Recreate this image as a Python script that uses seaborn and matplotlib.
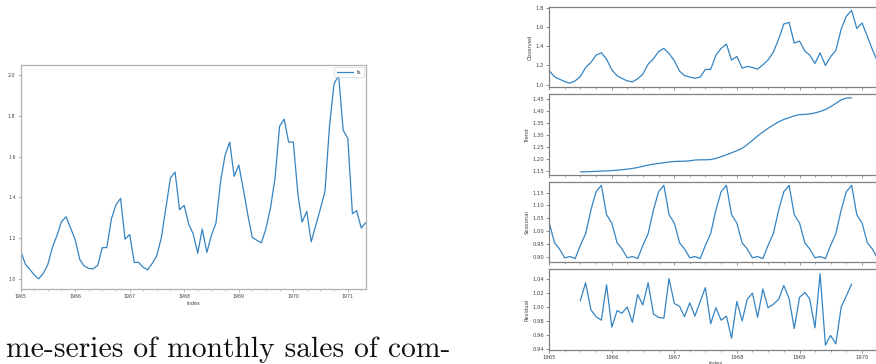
import numpy as np
import pandas as pd
import matplotlib
matplotlib.use("Agg")
import matplotlib.pyplot as plt
import matplotlib.dates as mdates
from matplotlib.ticker import MultipleLocator, FormatStrFormatter
import seaborn as sns

# ---------------- data ----------------
ts_values = [1.138, 1.072, 1.048, 1.020, 1.000, 1.026, 1.069, 1.154, 1.213, 1.281, 1.305, 1.250,
             1.192, 1.095, 1.064, 1.051, 1.049, 1.066, 1.153, 1.154, 1.296, 1.363, 1.396, 1.195,
             1.218, 1.080, 1.082, 1.057, 1.044, 1.076, 1.112, 1.202, 1.351, 1.496, 1.525, 1.340,
             1.361, 1.268, 1.222, 1.126, 1.245, 1.130, 1.213, 1.274, 1.479, 1.608, 1.672, 1.504,
             1.560, 1.438, 1.320, 1.204, 1.190, 1.177, 1.245, 1.348, 1.496, 1.750, 1.785, 1.672,
             1.673, 1.415, 1.279, 1.332, 1.182, 1.264, 1.343, 1.429, 1.755, 1.959, 2.000, 1.731,
             1.691, 1.320, 1.335, 1.250, 1.276]

observed = [1.143, 1.080, 1.056, 1.031, 1.014, 1.038, 1.083, 1.177, 1.230, 1.306, 1.330, 1.264,
            1.153, 1.090, 1.063, 1.038, 1.028, 1.059, 1.108, 1.212, 1.268, 1.344, 1.376, 1.323,
            1.247, 1.139, 1.094, 1.077, 1.066, 1.077, 1.157, 1.157, 1.306, 1.376, 1.421, 1.254,
            1.292, 1.170, 1.188, 1.177, 1.160, 1.205, 1.257, 1.337, 1.473, 1.630, 1.647, 1.431,
            1.452, 1.348, 1.306, 1.219, 1.330, 1.198, 1.289, 1.355, 1.577, 1.710, 1.772, 1.584,
            1.640, 1.500, 1.370, 1.240, 1.220]

# trend / residual: 1965-07 .. 1969-11
trend = [1.147, 1.147, 1.148, 1.149, 1.150, 1.151,
         1.152, 1.154, 1.156, 1.158, 1.161, 1.165, 1.170, 1.175, 1.179, 1.182, 1.185, 1.188,
         1.190, 1.191, 1.191, 1.193, 1.196, 1.197, 1.197, 1.198, 1.203, 1.210, 1.218, 1.226,
         1.235, 1.245, 1.260, 1.278, 1.296, 1.313, 1.328, 1.342, 1.355, 1.365, 1.372, 1.380,
         1.385, 1.386, 1.388, 1.392, 1.398, 1.406, 1.418, 1.432, 1.446, 1.454, 1.455]

seasonal = [1.031, 0.954, 0.931, 0.896, 0.901, 0.893, 0.944, 0.990, 1.082, 1.153, 1.178, 1.064,
            1.031, 0.954, 0.931, 0.896, 0.901, 0.893, 0.944, 0.990, 1.082, 1.153, 1.178, 1.064,
            1.031, 0.954, 0.931, 0.896, 0.901, 0.893, 0.944, 0.990, 1.082, 1.153, 1.178, 1.064,
            1.031, 0.954, 0.931, 0.896, 0.901, 0.893, 0.944, 0.990, 1.082, 1.153, 1.178, 1.064,
            1.031, 0.954, 0.931, 0.896, 0.901, 0.893, 0.944, 0.990, 1.082, 1.153, 1.178, 1.064,
            1.031, 0.954, 0.931, 0.896, 0.901]

residual = [1.009, 1.035, 0.996, 0.986, 0.981, 1.032,
            0.971, 0.995, 0.991, 1.000, 0.978, 1.018, 1.003, 1.035, 0.990, 0.985, 0.984, 1.041,
            1.005, 1.001, 0.986, 1.006, 0.987, 1.008, 1.028, 0.976, 0.999, 0.981, 0.987, 0.955,
            1.008, 0.980, 1.011, 1.020, 0.985, 1.026, 0.999, 1.004, 1.011, 1.031, 1.012, 0.969,
            1.014, 1.021, 1.012, 0.970, 1.048, 0.945, 0.959, 0.947, 1.000, 1.016, 1.033]

ts_dates = pd.date_range("1965-01-01", periods=len(ts_values), freq="MS")
dec_dates = pd.date_range("1965-01-01", periods=len(observed), freq="MS")
inner_dates = pd.date_range("1965-07-01", periods=len(trend), freq="MS")

# ---------------- style ----------------
sns.set_theme(style="ticks")
plt.rcParams["font.family"] = ["DejaVu Sans"]

LINE = "#3584c2"
TXT = "#444444"

fig = plt.figure(figsize=(8.76, 3.64), dpi=100)


def style_axis(ax, spine_color, fs):
    for s in ax.spines.values():
        s.set_visible(True)
        s.set_color(spine_color)
        s.set_linewidth(0.9)
    ax.tick_params(axis="both", which="major", labelsize=fs, colors=spine_color,
                   labelcolor=TXT, length=2.2, width=0.6, pad=1.5, direction="out")
    ax.tick_params(axis="both", which="minor", colors=spine_color, length=1.3, width=0.5,
                   direction="out")
    ax.xaxis.set_major_locator(mdates.YearLocator())
    ax.xaxis.set_minor_locator(mdates.MonthLocator(bymonth=[1, 4, 7, 10]))
    ax.xaxis.set_major_formatter(mdates.DateFormatter("%Y"))


# ---------------- left chart ----------------
axL = fig.add_axes([20.7 / 876, 1 - 289 / 364, 345 / 876, (289 - 65.3) / 364])
df_ts = pd.DataFrame({"index": ts_dates, "ts": ts_values})
sns.lineplot(data=df_ts, x="index", y="ts", ax=axL, color=LINE, linewidth=0.9, label="ts")
style_axis(axL, "#b0b0b0", 3.4)
axL.set_xlim(ts_dates[0], ts_dates[-1])
axL.set_ylim(0.95, 2.05)
axL.yaxis.set_major_locator(MultipleLocator(0.2))
axL.yaxis.set_major_formatter(FormatStrFormatter("%.1f"))
axL.set_ylabel("")
axL.set_xlabel("index", fontsize=3.6, color=TXT, labelpad=1.5)
leg = axL.legend(loc="upper right", fontsize=3.6, frameon=True, handlelength=3.2,
                 borderpad=0.5, handletextpad=0.8, borderaxespad=0.4, fancybox=True)
leg.get_frame().set_edgecolor("#cccccc")
leg.get_frame().set_linewidth(0.5)

# ---------------- right decomposition ----------------
panels = [
    ("Observed", dec_dates, observed, (0.972, 1.81), 0.2, "%.1f"),
    ("Trend", inner_dates, trend, (1.135, 1.470), 0.05, "%.2f"),
    ("Seasonal", dec_dates, seasonal, (0.879, 1.192), 0.05, "%.2f"),
    ("Residual", inner_dates, residual, (0.9385, 1.0545), 0.02, "%.2f"),
]
left_px = 549.3
width_px = 62.5 * (len(observed) - 1) / 12
tops = [6.7, 94.2, 181.7, 269.2]
h_px = 80.5
axes_r = []
for (name, d, vals, ylim, step, fmt), top in zip(panels, tops):
    ax = fig.add_axes([left_px / 876, 1 - (top + h_px) / 364, width_px / 876, h_px / 364])
    sns.lineplot(x=d, y=vals, ax=ax, color=LINE, linewidth=0.9)
    style_axis(ax, "#808080", 3.8)
    ax.set_xlim(dec_dates[0], dec_dates[-1])
    ax.set_ylim(*ylim)
    ax.yaxis.set_major_locator(MultipleLocator(step))
    ax.yaxis.set_major_formatter(FormatStrFormatter(fmt))
    ax.set_ylabel(name, fontsize=3.8, color=TXT, labelpad=2)
    ax.set_xlabel("")
    axes_r.append(ax)

for ax in axes_r[:-1]:
    ax.tick_params(axis="x", which="both", labelbottom=False)
axes_r[-1].set_xlabel("index", fontsize=3.8, color=TXT, labelpad=0.6)

# ---------------- cropped caption text ----------------
fig.text(6 / 876, 1 - 357 / 364, "me-series of monthly sales of com-",
         fontfamily="cmr10", fontsize=21.3, color="#111111", ha="left", va="baseline")

fig.savefig("out.png", dpi=100)
